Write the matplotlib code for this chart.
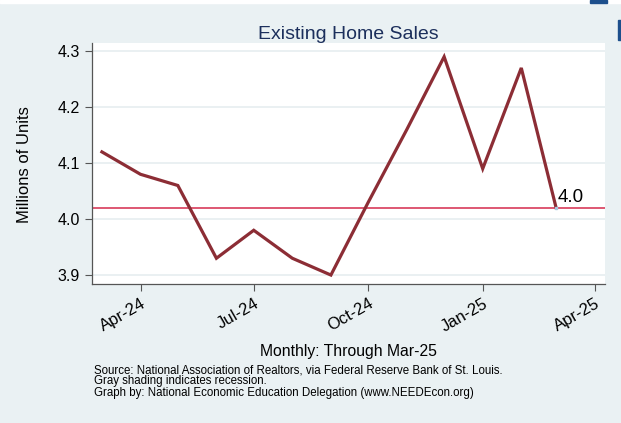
import numpy as np
import pandas as pd
import matplotlib
matplotlib.use("Agg")
import matplotlib.pyplot as plt
import matplotlib.dates as mdates
from matplotlib.patches import Rectangle

plt.rcParams['font.family'] = ['Liberation Sans', 'DejaVu Sans']

# existing home sales, millions of units (SAAR)
months = pd.date_range('2024-03-01', '2025-03-01', freq='MS')
sales = [4.12, 4.08, 4.06, 3.93, 3.98, 3.93, 3.90, 4.03, 4.16, 4.29, 4.09, 4.27, 4.02]
tick_dates = pd.to_datetime(['2024-04-01', '2024-07-01', '2024-10-01', '2025-01-01', '2025-04-01'])
yticks = [3.9, 4.0, 4.1, 4.2, 4.3]

bg = '#eaf1f3'
fig = plt.figure(figsize=(6.21, 4.23), dpi=100, facecolor=bg)
ax = fig.add_axes([0.1481, 0.3286, 0.8256, 0.569])
ax.set_facecolor('white')

ax.grid(axis='y', color='#e6eef0', lw=1.2, zorder=0)
ax.axhline(sales[-1], color='#d42a4c', lw=1.1, zorder=2)
ax.plot(months, sales, color='#8c2d35', lw=2.3, zorder=3, solid_joinstyle='miter')
ax.plot(months[-1], sales[-1], 's', ms=2, color='#a8c8e0', zorder=4)
ax.annotate('%.1f' % sales[-1], (months[-1], sales[-1]), xytext=(1, 1),
            textcoords='offset points', fontsize=13.5, ha='left', va='bottom')

ax.set_xlim(pd.Timestamp('2024-02-22'), pd.Timestamp('2025-04-09'))
ax.set_ylim(3.884, 4.314)
ax.set_yticks(yticks)
ax.set_yticklabels(['%.1f' % v for v in yticks])
ax.set_xticks(tick_dates)
ax.xaxis.set_major_formatter(mdates.DateFormatter('%b-%y'))
ax.tick_params(axis='both', length=5, width=0.8, color='#555555', labelsize=11.5)
ax.tick_params(axis='x', labelsize=12)
for lbl in ax.get_xticklabels():
    lbl.set_rotation(30)
    lbl.set_ha('right')
    lbl.set_rotation_mode('anchor')

for s in ['top', 'right']:
    ax.spines[s].set_visible(False)
for s in ['left', 'bottom']:
    ax.spines[s].set_color('#555555')
    ax.spines[s].set_linewidth(0.9)

ax.set_title('Existing Home Sales', fontsize=14, color='#1c2f5c', pad=3)
fig.text(25 / 621, 1 - 165 / 423, 'Millions of Units', rotation=90, fontsize=12,
         ha='center', va='center')
fig.text(348 / 621, 1 - 351 / 423, 'Monthly: Through Mar-25', fontsize=11.3,
         ha='center', va='center')
notes = ['Source: National Association of Realtors, via Federal Reserve Bank of St. Louis.',
         'Gray shading indicates recession.',
         'Graph by: National Economic Education Delegation (www.NEEDEcon.org)']
for i, line in enumerate(notes):
    fig.text(94 / 621, 1 - (370 + 11.3 * i) / 423, line, fontsize=8.3,
             ha='left', va='center')

# window chrome along the top and right edges
fig.patches.append(Rectangle((0, 1 - 3 / 423), 1, 3 / 423, transform=fig.transFigure,
                             color='white', zorder=-1))
fig.patches.append(Rectangle((590 / 621, 1 - 3 / 423), 17 / 621, 3 / 423,
                             transform=fig.transFigure, color='#1d4f8c'))
fig.patches.append(Rectangle((618 / 621, 1 - 40 / 423), 3 / 621, 20 / 423,
                             transform=fig.transFigure, color='#1d4f8c'))

fig.savefig('out.png', dpi=100, facecolor=bg)
